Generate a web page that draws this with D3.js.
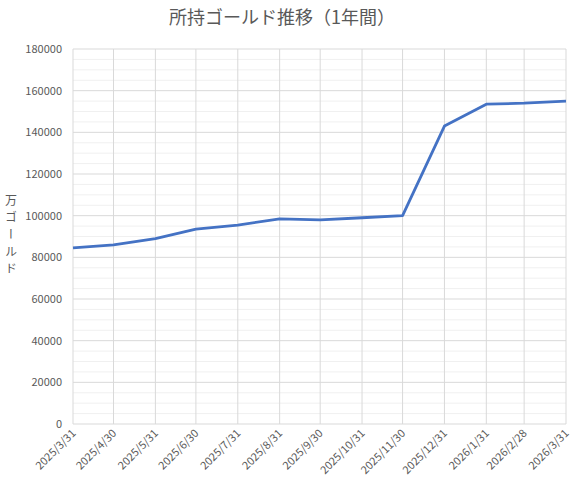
<!DOCTYPE html>
<html>
<head>
<meta charset="utf-8">
<script src="https://cdn.jsdelivr.net/npm/d3@7"></script>
<style>
  body { margin: 0; background: #fff; }
  text { font-family: "Noto Sans CJK JP", "Noto Sans", sans-serif; fill: #595959; }
</style>
</head>
<body>
<svg id="chart" width="574" height="483"></svg>
<script>
const dates = ["2025/3/31", "2025/4/30", "2025/5/31", "2025/6/30", "2025/7/31", "2025/8/31", "2025/9/30",
  "2025/10/31", "2025/11/30", "2025/12/31", "2026/1/31", "2026/2/28", "2026/3/31"];
const gold = [84500, 86000, 89000, 93500, 95500, 98500, 98000, 99000, 100000, 143000, 153500, 154000, 155000];
const yTicks = [0, 20000, 40000, 60000, 80000, 100000, 120000, 140000, 160000, 180000];
const title = "所持ゴールド推移（1年間）";
const yTitle = "万ゴールド";

const parse = d3.utcParse("%Y/%-m/%-d");
const data = dates.map((d, i) => ({ date: parse(d), label: d, value: gold[i] }));

const margin = { top: 49, right: 8, bottom: 59, left: 73 };
const svg = d3.select("#chart");
const width = 574 - margin.left - margin.right;
const height = 483 - margin.top - margin.bottom;

const x = d3.scaleUtc().domain(d3.extent(data, d => d.date)).range([0, width]);
const y = d3.scaleLinear().domain([0, 180000]).range([height, 0]);

const g = svg.append("g").attr("transform", `translate(${margin.left},${margin.top})`);

// minor horizontal grid every 5000
g.append("g").selectAll("line")
  .data(d3.range(0, 180001, 5000).filter(v => v % 20000 !== 0))
  .join("line")
  .attr("x1", 0).attr("x2", width)
  .attr("y1", d => y(d)).attr("y2", d => y(d))
  .attr("stroke", "#f0f0f0").attr("stroke-width", 1);

// major horizontal grid
g.append("g").selectAll("line")
  .data(yTicks)
  .join("line")
  .attr("x1", 0).attr("x2", width)
  .attr("y1", d => y(d)).attr("y2", d => y(d))
  .attr("stroke", "#d9d9d9").attr("stroke-width", 1);

// vertical grid at each date
g.append("g").selectAll("line")
  .data(data)
  .join("line")
  .attr("x1", d => x(d.date)).attr("x2", d => x(d.date))
  .attr("y1", 0).attr("y2", height)
  .attr("stroke", "#d9d9d9").attr("stroke-width", 1);

// y axis labels
g.append("g")
  .call(d3.axisLeft(y).tickValues(yTicks).tickSize(0).tickPadding(11).tickFormat(d3.format("d")))
  .call(a => a.select(".domain").remove())
  .selectAll("text")
  .style("font-size", "11px")
  .attr("fill", "#595959");

// x axis labels
g.append("g")
  .attr("transform", `translate(0,${height})`)
  .call(d3.axisBottom(x).tickValues(data.map(d => d.date)).tickSize(0).tickFormat((d, i) => dates[i]))
  .call(a => a.select(".domain").remove())
  .selectAll("text")
  .style("font-size", "11px")
  .attr("fill", "#595959")
  .attr("text-anchor", "end")
  .attr("dy", null)
  .attr("y", 0)
  .attr("transform", "translate(3,10) rotate(-45)");

// line
g.append("path")
  .datum(data)
  .attr("fill", "none")
  .attr("stroke", "#4472C4")
  .attr("stroke-width", 2.8)
  .attr("stroke-linejoin", "round")
  .attr("d", d3.line().x(d => x(d.date)).y(d => y(d.value)));

// title
svg.append("text")
  .attr("x", 282).attr("y", 24)
  .attr("text-anchor", "middle")
  .style("font-size", "18px")
  .text(title);

// y title, vertical upright
svg.append("text")
  .attr("x", 11).attr("y", 194)
  .style("font-size", "12px")
  .style("writing-mode", "vertical-rl")
  .style("text-orientation", "upright")
  .style("letter-spacing", "5px")
  .text(yTitle);
</script>
</body>
</html>
